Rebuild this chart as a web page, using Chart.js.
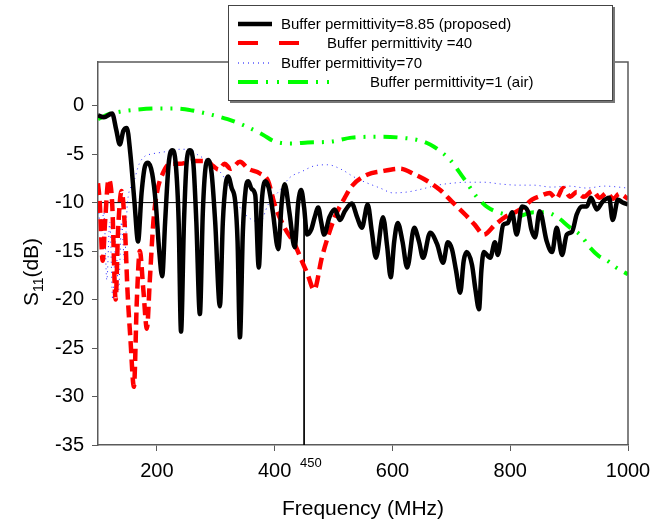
<!DOCTYPE html>
<html>
<head>
<meta charset="utf-8">
<script src="https://cdn.jsdelivr.net/npm/chart.js@4/dist/chart.umd.min.js"></script>
<style>
  html, body { margin: 0; padding: 0; background: #fff; }
  canvas { display: block; }
</style>
</head>
<body>
<canvas id="s11Chart" width="662" height="523"></canvas>
<script>
// values, [MHz, dB]
const seriesNames = [
    'Buffer permittivity=8.85 (proposed)',
    'Buffer permittivity =40',
    'Buffer permittivity=70',
    'Buffer permittivity=1 (air)'
];

const perm885 = [
    [100,-1],[110,-1.2],[124,-0.8],[131,-2.5],[137,-4],[143,-2.6],[149,-2.3],[155,-5],[162,-10],[168,-14],
    [174,-9],[180,-6.2],[185,-5.9],[192,-7],[198,-10],[204,-15],[209,-17.6],[214,-12],[220,-6],[226,-4.6],
    [232,-6],[237,-12],[241,-23.3],[246,-12],[251,-5.5],[256,-4.6],[262,-6],[267,-12],[273,-21.5],[278,-11],
    [283,-6.2],[287,-5.6],[293,-7],[299,-12],[307,-20.7],[312,-12],[317,-8],[321,-7.3],[327,-8.5],[333,-9.9],
    [337,-14],[341,-23.9],[346,-13],[351,-8.5],[355,-7.8],[361,-8.6],[367,-9.2],[373,-16.7],[378,-10],[384,-7.8],
    [390,-8.5],[397,-11],[406,-14.8],[412,-10],[417,-8.1],[425,-11],[434,-14.6],[440,-10],[445,-8.7],[450,-10.5],
    [455,-13.3],[462,-12.8],[468,-11.5],[474,-10.5],[479,-12],[484,-13.3],[493,-11.5],[502,-10.7],[511,-11.8],[519,-10.9],
    [531,-10.1],[540,-11.5],[548,-12.6],[558,-10.2],[565,-13],[572,-15.7],[584,-11.5],[591,-14.5],[597,-17.7],[603,-14],
    [609,-12.1],[617,-14],[625,-16.7],[637,-12.6],[645,-14],[652,-15.7],[664,-13.1],[676,-14.3],[686,-16.2],[694,-14.1],
    [701,-14.8],[708,-17],[715,-19.3],[721,-16],[726,-15.1],[735,-16.4],[741,-19],[747,-21],[751,-17],[755,-15.1],
    [766,-15.7],[774,-14.1],[779,-15.4],[788,-12.3],[796,-12.1],[803,-11],[811,-13.3],[820,-10.4],[830,-10.9],[836,-12.8],
    [842,-13.6],[850,-10.9],[862,-14],[871,-15.1],[879,-12.6],[888,-15.4],[896,-13.3],[905,-13],[913,-11.2],[922,-10.4],
    [930,-10.4],[937,-9.5],[947,-10.7],[957,-9.9],[968,-9.5],[974,-11.8],[983,-9.7],[991,-10],[1000,-10.2]
];

const perm40 = [
    [100,-8],[103,-10],[108,-16],[112,-12],[118,-7.6],[124,-10],[130,-20],[134,-13],[140,-8.8],[146,-13],
    [150,-19],[155,-24],[161,-29],[166,-20],[171,-15],[177,-19],[183,-23],[188,-18],[194,-12],[200,-9],
    [210,-7],[222,-6],[239,-6],[261,-5.7],[285,-5.7],[295,-6.2],[305,-6.6],[315,-6],[325,-6.5],[341,-5.8],
    [355,-6.5],[375,-7],[389,-7.8],[400,-10.2],[417,-12.6],[434,-14.3],[446,-16],[456,-17.4],[467,-19],[480,-15.7],
    [490,-13.6],[502,-11.5],[519,-9.5],[531,-8.3],[558,-7.1],[579,-6.8],[613,-6.5],[638,-7.1],[660,-7.8],[681,-8.7],
    [701,-9.9],[723,-11.2],[740,-12.3],[755,-13.3],[774,-12.3],[791,-11.5],[808,-11],[822,-10.5],[837,-9.7],[852,-9.3],
    [867,-9],[878,-9.6],[890,-8.5],[902,-9.4],[913,-8.9],[925,-9.4],[940,-8.8],[952,-9.5],[964,-9],[975,-9.6],
    [985,-9.1],[1000,-9.6]
];

const perm70 = [
    [100,-10],[105,-13],[110,-11],[115,-18],[120,-12],[125,-20],[130,-14],[135,-19],[140,-12],[145,-16],
    [150,-10],[160,-8],[170,-6],[180,-5.2],[190,-5],[210,-4.8],[240,-4.5],[256,-4.5],[270,-5.1],[290,-5.8],
    [307,-6.8],[321,-8.1],[338,-10.2],[355,-11.5],[375,-12],[389,-10.2],[409,-8.7],[426,-7.4],[446,-6.8],[468,-6.2],
    [490,-6.1],[514,-6.6],[533,-7.3],[550,-7.8],[579,-8.5],[601,-9],[626,-8.9],[650,-8.6],[677,-8.2],[701,-8],
    [728,-7.9],[755,-7.9],[786,-8.1],[813,-8.2],[839,-8.2],[870,-8.4],[900,-8.3],[930,-8.5],[960,-8.3],[1000,-8.5]
];

const perm1 = [
    [100,-1.4],[117,-0.9],[140,-0.6],[168,-0.4],[200,-0.3],[231,-0.3],[260,-0.5],[290,-0.9],[320,-1.4],[350,-2.1],
    [380,-3],[400,-3.7],[430,-3.9],[456,-3.8],[497,-3.7],[531,-3.3],[584,-3.2],[613,-3.3],[647,-3.6],[664,-4],
    [677,-4.5],[698,-5.6],[713,-6.8],[728,-8.1],[743,-9.4],[762,-10.5],[791,-11.2],[813,-11.4],[840,-11],[860,-11],
    [880,-11.5],[900,-12.5],[920,-13.4],[935,-14.6],[950,-15.5],[965,-16],[980,-16.7],[1000,-17.4]
];

const refLine = [[100,-10],[1000,-10]];
const markLine = [[450,-10],[450,-35]];

const xTicks = [200, 400, 600, 800, 1000];
const yTicks = [0, -5, -10, -15, -20, -25, -30, -35];
const markLabel = '450';

const FONT = '"Liberation Sans", Arial, sans-serif';

function pts(arr) {
    return arr.map(p => ({ x: p[0], y: p[1] }));
}

const overlay = {
    id: 'overlay',
    afterDatasetsDraw(chart) {
        const ctx = chart.ctx;
        const a = chart.chartArea;
        ctx.save();
        // top and right sides of the frame
        ctx.strokeStyle = '#5a5a5a';
        ctx.lineWidth = 1.5;
        ctx.beginPath();
        ctx.moveTo(a.left, a.top);
        ctx.lineTo(a.right, a.top);
        ctx.lineTo(a.right, a.bottom);
        ctx.stroke();
        ctx.restore();
    },
    afterDraw(chart) {
        const ctx = chart.ctx;
        const a = chart.chartArea;
        const xs = chart.scales.x;
        ctx.save();
        ctx.fillStyle = '#000';

        // small 450 label
        ctx.font = '13px ' + FONT;
        ctx.textAlign = 'left';
        ctx.textBaseline = 'alphabetic';
        ctx.fillText(markLabel, xs.getPixelForValue(450) - 4, 467);

        // x title
        ctx.font = '21px ' + FONT;
        ctx.textAlign = 'center';
        ctx.fillText('Frequency (MHz)', (a.left + a.right) / 2, 515);

        // y title with subscript
        ctx.save();
        ctx.translate(38, 272);
        ctx.rotate(-Math.PI / 2);
        ctx.textAlign = 'left';
        ctx.font = '21px ' + FONT;
        const wS = ctx.measureText('S').width;
        const wRest = ctx.measureText('(dB)').width;
        ctx.font = '14px ' + FONT;
        const wSub = ctx.measureText('11').width;
        let x0 = -(wS + wSub + wRest) / 2;
        ctx.font = '21px ' + FONT;
        ctx.fillText('S', x0, 0);
        ctx.font = '14px ' + FONT;
        ctx.fillText('11', x0 + wS, 5);
        ctx.font = '21px ' + FONT;
        ctx.fillText('(dB)', x0 + wS + wSub, 0);
        ctx.restore();

        // legend box
        const bx = 228, by = 5, bw = 384, bh = 95;
        ctx.fillStyle = '#fff';
        ctx.fillRect(bx, by, bw, bh);
        ctx.strokeStyle = '#444';
        ctx.lineWidth = 1;
        ctx.strokeRect(bx + 0.5, by + 0.5, bw, bh);
        ctx.strokeStyle = '#777';
        ctx.lineWidth = 2;
        ctx.beginPath();
        ctx.moveTo(bx + bw + 2, by + 2);
        ctx.lineTo(bx + bw + 2, by + bh + 2);
        ctx.lineTo(bx + 2, by + bh + 2);
        ctx.stroke();

        const rows = [
            { y: 24, x1: 238, x2: 272, tx: 281, color: '#000', w: 4.5, dash: [] },
            { y: 43, x1: 238, x2: 300, tx: 327, color: '#ff0000', w: 4, dash: [20, 21] },
            { y: 63, x1: 238, x2: 272, tx: 281, color: '#0000ff', w: 1, dash: [1, 4] },
            { y: 82, x1: 238, x2: 338, tx: 370, color: '#00ff00', w: 4, dash: [20, 8, 2, 9, 2, 9] }
        ];
        ctx.font = '15px ' + FONT;
        ctx.textAlign = 'left';
        ctx.textBaseline = 'middle';
        rows.forEach((r, i) => {
            ctx.strokeStyle = r.color;
            ctx.lineWidth = r.w;
            ctx.setLineDash(r.dash);
            ctx.beginPath();
            ctx.moveTo(r.x1, r.y);
            ctx.lineTo(r.x2, r.y);
            ctx.stroke();
            ctx.setLineDash([]);
            ctx.fillStyle = '#000';
            ctx.fillText(seriesNames[i], r.tx, r.y + 1);
        });
        ctx.restore();
    }
};

const axisColor = '#5a5a5a';

new Chart(document.getElementById('s11Chart'), {
    type: 'line',
    data: {
        datasets: [
            {
                data: pts(perm885), borderColor: '#000', borderWidth: 4.5,
                pointRadius: 0, cubicInterpolationMode: 'monotone'
            },
            {
                data: pts(perm1), borderColor: '#00ff00', borderWidth: 4,
                borderDash: [14, 8, 2, 8, 2, 8], pointRadius: 0, cubicInterpolationMode: 'monotone'
            },
            {
                data: pts(perm40), borderColor: '#ff0000', borderWidth: 4.5,
                borderDash: [12, 6], pointRadius: 0, cubicInterpolationMode: 'monotone'
            },
            {
                data: pts(perm70), borderColor: 'rgba(0,0,255,0.85)', borderWidth: 1,
                borderDash: [1, 4], pointRadius: 0, cubicInterpolationMode: 'monotone'
            },
            {
                data: pts(refLine), borderColor: '#000', borderWidth: 1, pointRadius: 0
            },
            {
                data: pts(markLine), borderColor: '#000', borderWidth: 1, pointRadius: 0
            }
        ]
    },
    options: {
        responsive: false,
        animation: false,
        devicePixelRatio: 1,
        layout: { padding: { left: 0, right: 34, top: 62, bottom: 0 } },
        plugins: {
            legend: { display: false },
            tooltip: { enabled: false }
        },
        scales: {
            x: {
                type: 'linear',
                min: 100,
                max: 1000,
                afterBuildTicks: s => { s.ticks = xTicks.map(v => ({ value: v })); },
                afterFit: s => { s.height = 78; },
                grid: { drawOnChartArea: false, drawTicks: true, tickLength: 6, color: axisColor, lineWidth: 1 },
                border: { display: true, color: axisColor, width: 1.5 },
                ticks: {
                    color: '#000',
                    padding: 8,
                    maxRotation: 0,
                    font: { family: FONT, size: 20 },
                    callback: v => String(v)
                }
            },
            y: {
                type: 'linear',
                min: -35,
                max: 4.5,
                afterBuildTicks: s => { s.ticks = yTicks.map(v => ({ value: v })); },
                afterFit: s => { s.width = 98; },
                grid: { drawOnChartArea: false, drawTicks: true, tickLength: 6, color: axisColor, lineWidth: 1 },
                border: { display: true, color: axisColor, width: 1.5 },
                ticks: {
                    color: '#000',
                    padding: 8,
                    font: { family: FONT, size: 20 },
                    callback: v => String(v)
                }
            }
        }
    },
    plugins: [overlay]
});
</script>
</body>
</html>
